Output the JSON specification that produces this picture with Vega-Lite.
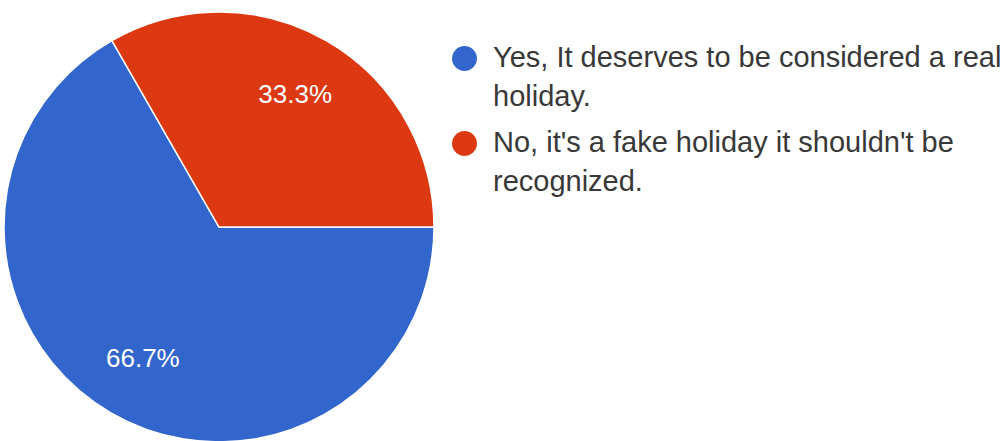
{
  "$schema": "https://vega.github.io/schema/vega-lite/v6.json",
  "width": 438,
  "height": 454,
  "padding": 0,
  "background": "white",
  "data": {
    "values": [
      {"answer": "Yes, It deserves to be considered a real holiday.", "share": 0.667, "order": 1},
      {"answer": "No, it's a fake holiday it shouldn't be recognized.", "share": 0.333, "order": 2}
    ]
  },
  "encoding": {
    "theta": {"field": "share", "type": "quantitative", "stack": true, "scale": {"range": [1.5708, 7.854]}},
    "order": {"field": "order", "type": "quantitative"}
  },
  "layer": [
    {
      "mark": {"type": "arc", "outerRadius": 215, "stroke": "white", "strokeWidth": 1.5},
      "encoding": {
        "color": {
          "field": "answer",
          "type": "nominal",
          "sort": null,
          "scale": {
            "domain": ["Yes, It deserves to be considered a real holiday.", "No, it's a fake holiday it shouldn't be recognized."],
            "range": ["#3366cc", "#dc3912"]
          },
          "legend": {
            "title": null,
            "orient": "none",
            "legendX": 450,
            "legendY": 44,
            "symbolType": "circle",
            "symbolSize": 620,
            "symbolStrokeWidth": 0,
            "labelFont": "Liberation Sans",
            "labelFontSize": 29,
            "labelColor": "#383838",
            "labelLimit": 700,
            "labelOffset": 14,
            "labelBaseline": "top",
            "rowPadding": 16,
            "labelExpr": "indexof(datum.label, 'Yes') == 0 ? ['Yes, It deserves to be considered a real', 'holiday.'] : [\"No, it's a fake holiday it shouldn't be\", 'recognized.']"
          }
        }
      }
    },
    {
      "mark": {"type": "text", "radius": 152, "font": "Liberation Sans", "fontSize": 26, "color": "white"},
      "encoding": {
        "text": {"field": "share", "type": "quantitative", "format": ".1%"}
      }
    }
  ],
  "config": {
    "view": {"stroke": null},
    "style": {"guide-label": {"lineHeight": 39, "dy": -15}}
  }
}
